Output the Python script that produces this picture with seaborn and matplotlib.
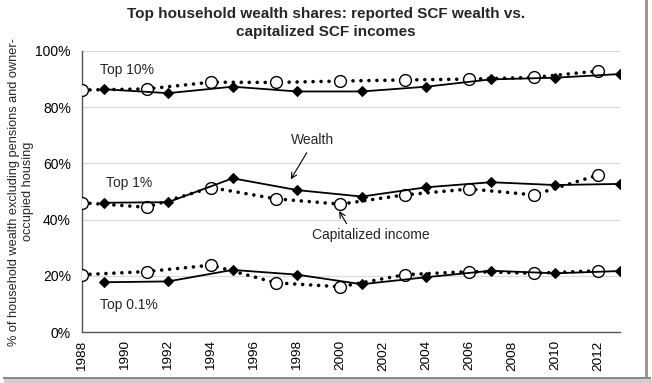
import matplotlib
matplotlib.use("Agg")
import matplotlib.pyplot as plt
import seaborn as sns
import pandas as pd
from matplotlib.patches import Rectangle

wealth_years = [1989, 1992, 1995, 1998, 2001, 2004, 2007, 2010, 2013]
income_years = [1988, 1991, 1994, 1997, 2000, 2003, 2006, 2009, 2012]

wealth_top10 = [86.4, 85.0, 87.3, 85.6, 85.6, 87.3, 89.9, 90.5, 91.8]
income_top10 = [86.1, 86.5, 88.9, 88.8, 89.3, 89.7, 90.0, 90.6, 92.9]
wealth_top1 = [46.0, 46.2, 54.7, 50.5, 48.2, 51.5, 53.3, 52.3, 52.7]
income_top1 = [46.0, 44.4, 51.4, 47.4, 45.5, 48.8, 50.9, 48.8, 55.9]
wealth_top01 = [17.7, 18.0, 22.1, 20.4, 17.0, 19.5, 21.8, 20.9, 21.7]
income_top01 = [20.4, 21.5, 23.8, 17.5, 16.1, 20.4, 21.5, 20.9, 21.8]

x_ticks = list(range(1988, 2013, 2))
y_ticks = [0, 20, 40, 60, 80, 100]

sns.set_theme(style="white")
plt.rcParams["font.family"] = ["Liberation Sans", "DejaVu Sans"]

fig = plt.figure(figsize=(6.52, 3.83), dpi=100)
ax = fig.add_axes([82 / 652, 1 - 332 / 383, (620 - 82) / 652, (332 - 51) / 383])

groups = [
    (wealth_top10, income_top10),
    (wealth_top1, income_top1),
    (wealth_top01, income_top01),
]
for w, inc in groups:
    dfi = pd.DataFrame({"year": income_years, "share": inc})
    sns.lineplot(data=dfi, x="year", y="share", ax=ax, color="black",
                 linestyle=(0, (0.01, 2.2)), linewidth=2.6,
                 dash_capstyle="round", marker="o", markersize=8.5,
                 markerfacecolor="white", markeredgecolor="black",
                 markeredgewidth=1.0, zorder=3)
    dfw = pd.DataFrame({"year": wealth_years, "share": w})
    sns.lineplot(data=dfw, x="year", y="share", ax=ax, color="black",
                 linewidth=1.3, marker="D", markersize=5.5,
                 markerfacecolor="black", markeredgecolor="black", zorder=4)

ax.set_xlim(1988, 2013.0)
ax.set_ylim(0, 100)
ax.set_xticks(x_ticks)
ax.set_xticklabels([str(t) for t in x_ticks], rotation=90, fontsize=9.7)
ax.set_yticks(y_ticks)
ax.set_yticklabels([f"{t}%" for t in y_ticks], fontsize=10)
ax.tick_params(axis="both", length=0, colors="black")
ax.tick_params(axis="x", pad=6)
ax.tick_params(axis="y", pad=8)
ax.grid(axis="y", color="#d9d9d9", linewidth=0.8)
ax.set_axisbelow(True)
for s in ["top", "right"]:
    ax.spines[s].set_visible(False)
for s in ["left", "bottom"]:
    ax.spines[s].set_color("#555555")
    ax.spines[s].set_linewidth(1.0)
ax.set_xlabel("")
ax.set_ylabel("% of household wealth excluding pensions and owner-\noccupied housing",
              fontsize=9.2, linespacing=1.2)
ax.yaxis.set_label_coords(-0.089, 0.5)

ax.text(1990.1, 93.2, "Top 10%", fontsize=10, ha="center", va="center")
ax.text(1990.2, 53.0, "Top 1%", fontsize=10, ha="center", va="center")
ax.text(1990.2, 9.6, "Top 0.1%", fontsize=10, ha="center", va="center")

ax.annotate("Wealth", xy=(1997.7, 54.3), xytext=(1998.7, 68.3), fontsize=10,
            ha="center", va="center",
            arrowprops=dict(arrowstyle="->", color="black", lw=0.8,
                            relpos=(0.45, 0.0), shrinkA=2, shrinkB=0))
ax.annotate("Capitalized income", xy=(1999.85, 44.3), xytext=(2001.4, 34.5),
            fontsize=10, ha="center", va="center",
            arrowprops=dict(arrowstyle="->", color="black", lw=0.8,
                            relpos=(0.32, 1.0), shrinkA=1, shrinkB=3))

fig.suptitle("Top household wealth shares: reported SCF wealth vs.\ncapitalized SCF incomes",
             fontsize=11, fontweight="bold", x=0.5, y=0.982, va="top",
             linespacing=1.33)

fig.patches.append(Rectangle((645 / 652, 0.012), 3 / 652, 0.988, transform=fig.transFigure,
                             fill=True, facecolor="#9a9a9a", edgecolor="none"))
fig.patches.append(Rectangle((0.004, 4 / 383), 648 / 652, 2.5 / 383, transform=fig.transFigure,
                             fill=True, facecolor="#8a8a8a", edgecolor="none"))
fig.patches.append(Rectangle((0.006, 0.0), 0.994, 4 / 383, transform=fig.transFigure,
                             fill=True, facecolor="#cfcfcf", edgecolor="none"))

fig.savefig("out.png", dpi=100)
